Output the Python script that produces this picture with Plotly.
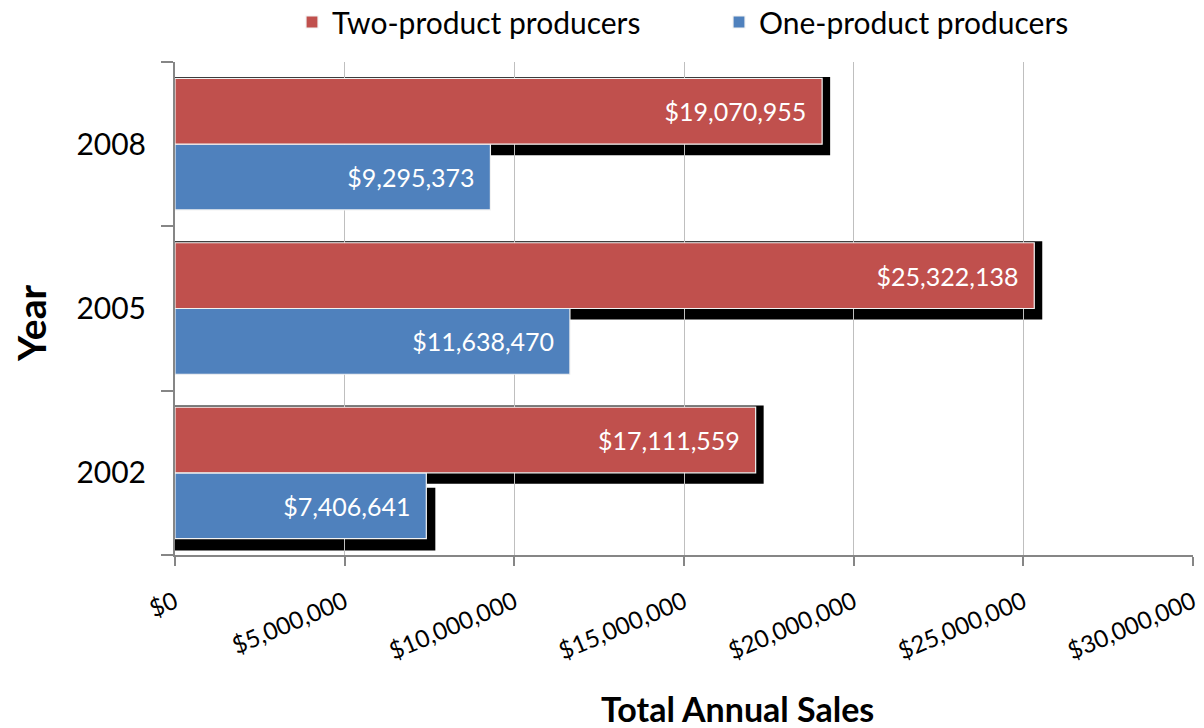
import plotly.graph_objects as go

# Sales by year for each producer group
years = ["2002", "2005", "2008"]
two_product_sales = [17111559, 25322138, 19070955]
one_product_sales = [7406641, 11638470, 9295373]
x_ticks = [0, 5000000, 10000000, 15000000, 20000000, 25000000, 30000000]

RED = "#C0504D"
BLUE = "#4F81BD"
FONT = "Lato, Calibri, 'Open Sans', sans-serif"

# layout geometry (pixels) used to turn pixel offsets into data offsets
W, H = 1204, 728
M_L, M_R, M_T, M_B = 175, 11, 62, 173
X_MAX = 30000000
plot_w = W - M_L - M_R
plot_h = H - M_T - M_B
px_x = X_MAX / plot_w            # data units per pixel along x
px_y = 3.0 / plot_h              # category units per pixel along y
BAR_W = 0.4                      # each bar's thickness (bargap 0.2, two series)

fig = go.Figure()

fig.add_trace(go.Bar(
    name="One-product producers", y=years, x=one_product_sales, orientation="h",
    marker=dict(color=BLUE, line=dict(color="#F2F2F2", width=1.2)),
    texttemplate="$%{x:,.0f}\u00a0\u00a0", textposition="inside",
    insidetextanchor="end", textangle=0,
    textfont=dict(color="white", size=25, family=FONT),
))
fig.add_trace(go.Bar(
    name="Two-product producers", y=years, x=two_product_sales, orientation="h",
    marker=dict(color=RED, line=dict(color="#F2F2F2", width=1.2)),
    texttemplate="$%{x:,.0f}\u00a0\u00a0", textposition="inside",
    insidetextanchor="end", textangle=0,
    textfont=dict(color="white", size=25, family=FONT),
))

# drop shadows behind the bars
shapes = []
for i, v in enumerate(two_product_sales):
    top = i + BAR_W
    bottom = i
    shapes.append(dict(
        type="rect", xref="x", yref="y", layer="below",
        x0=0, x1=v + 8 * px_x,
        y0=bottom - 11 * px_y, y1=top + 1.5 * px_y,
        fillcolor="black", line=dict(width=0),
    ))
blue_shadow_years = {"2002"}
for i, (yr, v) in enumerate(zip(years, one_product_sales)):
    if yr not in blue_shadow_years:
        continue
    top = i
    bottom = i - BAR_W
    shapes.append(dict(
        type="rect", xref="x", yref="y", layer="below",
        x0=0, x1=v + 9 * px_x,
        y0=bottom - 12 * px_y, y1=top - 15 * px_y,
        fillcolor="black", line=dict(width=0),
    ))

fig.update_layout(
    width=W, height=H,
    margin=dict(l=M_L, r=M_R, t=M_T, b=M_B, autoexpand=False),
    paper_bgcolor="white", plot_bgcolor="white",
    barmode="group", bargap=0.2, bargroupgap=0,
    font=dict(family=FONT, color="black"),
    shapes=shapes,
    showlegend=True,
    legend=dict(
        orientation="h", x=(719 - M_L) / plot_w, xanchor="center",
        y=1 + 40 / plot_h, yanchor="middle",
        traceorder="reversed", font=dict(size=30, family=FONT),
        entrywidth=382, entrywidthmode="pixels",
    ),
    xaxis=dict(
        range=[0, X_MAX], tickvals=x_ticks, tickformat="$,.0f",
        tickangle=-23, tickfont=dict(size=24, family=FONT), ticklabelstandoff=13,
        showgrid=True, gridcolor="#BFBFBF", gridwidth=1,
        showline=True, linecolor="#868686", linewidth=2,
        ticks="outside", ticklen=9, tickcolor="#868686", tickwidth=1.5,
        zeroline=False, fixedrange=True,
    ),
    yaxis=dict(
        type="category", categoryorder="array", categoryarray=years,
        range=[-0.5, 2.5], tickson="boundaries",
        tickfont=dict(size=30, family=FONT), ticklabelstandoff=21,
        showline=True, linecolor="#868686", linewidth=2,
        ticks="outside", ticklen=12, tickcolor="#868686", tickwidth=1.5,
        showgrid=False, fixedrange=True,
    ),
    annotations=[
        dict(text="<b>Year</b>", xref="paper", yref="paper",
             x=-(M_L - 31) / plot_w, y=1 - (324 - M_T) / plot_h,
             xanchor="center", yanchor="middle", textangle=-90,
             showarrow=False, font=dict(size=39, family=FONT)),
        dict(text="<b>Total Annual Sales</b>", xref="paper", yref="paper",
             x=(737 - M_L) / plot_w, y=-(708 - M_T - plot_h) / plot_h,
             xanchor="center", yanchor="middle",
             showarrow=False, font=dict(size=34, family=FONT)),
    ],
)

fig.write_html("out.html")
